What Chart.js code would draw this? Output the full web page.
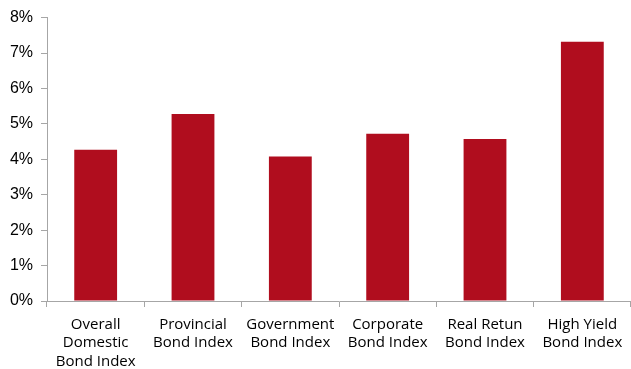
<!DOCTYPE html>
<html>
<head>
<meta charset="utf-8">
<script src="https://cdn.jsdelivr.net/npm/chart.js@4/dist/chart.umd.min.js"></script>
<style>
  html, body { margin: 0; padding: 0; background: #fff; }
  #wrap { width: 631px; height: 369px; position: relative; }
</style>
</head>
<body>
<div id="wrap"><canvas id="bonds"></canvas></div>
<script>
// Index names (split into lines as on the axis)
const categories = [
  ["Overall", "Domestic", "Bond Index"],
  ["Provincial", "Bond Index"],
  ["Government", "Bond Index"],
  ["Corporate", "Bond Index"],
  ["Real Retun", "Bond Index"],
  ["High Yield", "Bond Index"],
];
// Values in percent
const yields = [4.27, 5.28, 4.08, 4.72, 4.57, 7.32];
const yMin = 0;
const yMax = 8;

const barColor = "#B00D1E";
const axisColor = "#A6A6A6";

const canvas = document.getElementById("bonds");

new Chart(canvas, {
  type: "bar",
  data: {
    labels: categories,
    datasets: [
      {
        data: yields,
        backgroundColor: barColor,
        borderWidth: 0,
        categoryPercentage: 1,
        barPercentage: 0.44,
      },
    ],
  },
  options: {
    responsive: true,
    maintainAspectRatio: false,
    animation: false,
    layout: { padding: { top: 13, right: 0, left: 0, bottom: 0 } },
    plugins: {
      legend: { display: false },
      tooltip: { enabled: false },
    },
    scales: {
      x: {
        offset: true,
        grid: {
          offset: true,
          drawOnChartArea: false,
          drawTicks: true,
          tickLength: 6,
          color: axisColor,
        },
        border: { color: axisColor, width: 1 },
        ticks: {
          color: "#000",
          padding: 8,
          maxRotation: 0,
          autoSkip: false,
          font: { family: "Open Sans", size: 15, lineHeight: 1.25 },
        },
        afterFit: (axis) => {
          axis.height = 68;
        },
      },
      y: {
        min: yMin,
        max: yMax,
        grid: {
          drawOnChartArea: false,
          drawTicks: true,
          tickLength: 6,
          color: axisColor,
        },
        border: { color: axisColor, width: 1 },
        ticks: {
          stepSize: 1,
          color: "#000",
          padding: 8,
          font: { family: "Liberation Sans", size: 16 },
          callback: (value) => `${value}%`,
        },
        afterFit: (axis) => {
          axis.width = 47;
        },
      },
    },
  },
});
</script>
</body>
</html>
